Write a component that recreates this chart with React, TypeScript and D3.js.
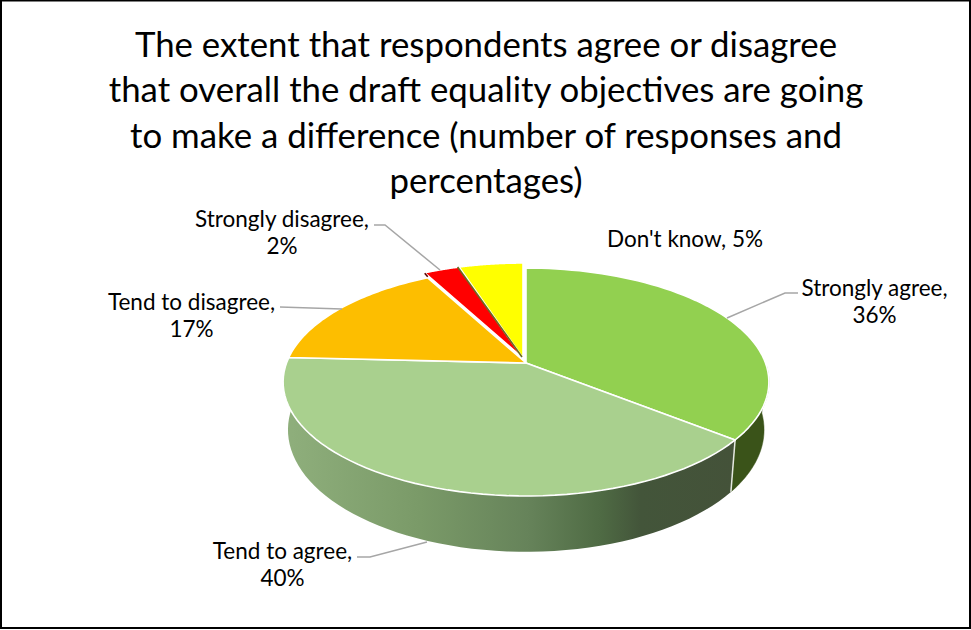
import React from "react";
import * as d3 from "d3";

const categories = ["Strongly agree", "Tend to agree", "Tend to disagree", "Strongly disagree", "Don't know"];
const shownPercent = [36, 40, 17, 2, 5];
const sliceShare = [35.7, 40.1, 16.4, 2.8, 5];
const topColors = ["#92D050", "#A9D08E", "#FDBE00", "#FF0000", "#FFFF00"];
const explodeX = [0, 0, 0, -3, -3];
const explodeY = [0, 0, 0, -5, -5];
const titleLines = [
  "The extent that respondents agree or disagree",
  "that overall the draft equality objectives are going",
  "to make a difference (number of responses and",
  "percentages)",
];

const W = 971, H = 630;
const cx = 526, cy = 363;
const R = 239.5, S = 110.8, K = 0.1667;

const proj = (a: number, dx = 0, dy = 0): [number, number] => {
  const u = Math.sin(a), v = -Math.cos(a);
  const w = 1 - K * v;
  return [cx + dx + (R * u) / w, cy + dy + (S * v) / w];
};
const lower = (p: [number, number]): [number, number] => [
  cx + (p[0] - cx) * 0.98,
  p[1] + 52 + 0.07 * (p[1] - 441),
];
const arcs = d3.pie<number>().sort(null)(sliceShare);
const samples = (a0: number, a1: number) => d3.range(0, 61).map((i) => a0 + ((a1 - a0) * i) / 60);
const line = d3.line();

const wedge = (a0: number, a1: number, dx: number, dy: number) =>
  line([[cx + dx, cy + dy], ...samples(a0, a1).map((a) => proj(a, dx, dy))])! + "Z";
const wall = (a0: number, a1: number) => {
  const top = samples(a0, a1).map((a) => proj(a));
  return line([...top, ...top.map(lower).reverse()])! + "Z";
};

const labels = [
  { x: 874.5, y: 296, lines: [`${categories[0]},`, `${shownPercent[0]}%`] },
  { x: 282.5, y: 559, lines: [`${categories[1]},`, `${shownPercent[1]}%`] },
  { x: 191.5, y: 310, lines: [`${categories[2]},`, `${shownPercent[2]}%`] },
  { x: 282, y: 227, lines: [`${categories[3]},`, `${shownPercent[3]}%`] },
  { x: 685, y: 247, lines: [`${categories[4]}, ${shownPercent[4]}%`] },
];
const leaders: [number, number][][] = [
  [[798, 293], [785, 293], [727, 318]],
  [[357, 557], [370, 557], [427, 542]],
  [[280, 307], [342, 309]],
  [[374, 225], [385, 225], [440, 270]],
];
const font = "Lato, Carlito, Calibri, sans-serif";

export default function App() {
  const [a1s, a1e] = [arcs[0].startAngle, arcs[0].endAngle];
  const [a2s, a2e] = [arcs[1].startAngle, arcs[1].endAngle];
  const ys = arcs[4].startAngle;
  const yellowEdge = proj(ys, explodeX[4], explodeY[4]);
  const redStart = proj(arcs[3].startAngle, explodeX[3], explodeY[3]);
  return (
    <svg width={W} height={H} style={{ position: "absolute", left: 0, top: 0, background: "#fff" }}>
      <defs>
        <linearGradient id="sideGrad" gradientUnits="userSpaceOnUse" x1={285} y1={0} x2={735} y2={0}>
          <stop offset="0" stopColor="#8FAF7C" />
          <stop offset="0.3" stopColor="#7A9A68" />
          <stop offset="0.54" stopColor="#66835A" />
          <stop offset="0.7" stopColor="#4F6B44" />
          <stop offset="0.79" stopColor="#43553A" />
          <stop offset="1" stopColor="#445239" />
        </linearGradient>
      </defs>
      <rect x={1} y={0.5} width={W - 2} height={627.5} fill="#fff" stroke="#000" strokeWidth={2} />
      {titleLines.map((t, i) => (
        <text key={i} x={486} y={57 + i * 45.3} textAnchor="middle" fontFamily={font} fontSize={34.8} fill="#000">{t}</text>
      ))}
      <path d={wall(a1s + 1.6, a1e)} fill="#3A5319" stroke="#3A5319" strokeWidth={0.5} />
      <path d={wall(a2s, a2e)} fill="url(#sideGrad)" />
      {(() => {
        const p = proj(a1e);
        const q = lower(p);
        return <line x1={p[0]} y1={p[1]} x2={q[0]} y2={q[1]} stroke="#E4E8E0" strokeWidth={1.5} />;
      })()}
      {arcs.map((a, i) => (
        <path key={i} d={wedge(a.startAngle, a.endAngle, explodeX[i], explodeY[i])} fill={topColors[i]} stroke="#fff" strokeWidth={1.6} strokeLinejoin="round" />
      ))}
      <line x1={yellowEdge[0] - 1.5} y1={yellowEdge[1]} x2={cx + explodeX[4] - 1} y2={cy + explodeY[4] - 1} stroke="#6B6B1E" strokeWidth={1.6} />
      <line x1={redStart[0]} y1={redStart[1] + 0.5} x2={redStart[0] + 3} y2={redStart[1] + 4} stroke="#5A0000" strokeWidth={1.6} />
      {leaders.map((l, i) => (
        <path key={i} d={line(l)!} fill="none" stroke="#A6A6A6" strokeWidth={1.5} />
      ))}
      {labels.map((l, i) => (
        <text key={i} textAnchor="middle" fontFamily={font} fontSize={22.5} fill="#000">
          {l.lines.map((s, j) => (
            <tspan key={j} x={l.x} y={l.y + j * 27}>{s}</tspan>
          ))}
        </text>
      ))}
    </svg>
  );
}
